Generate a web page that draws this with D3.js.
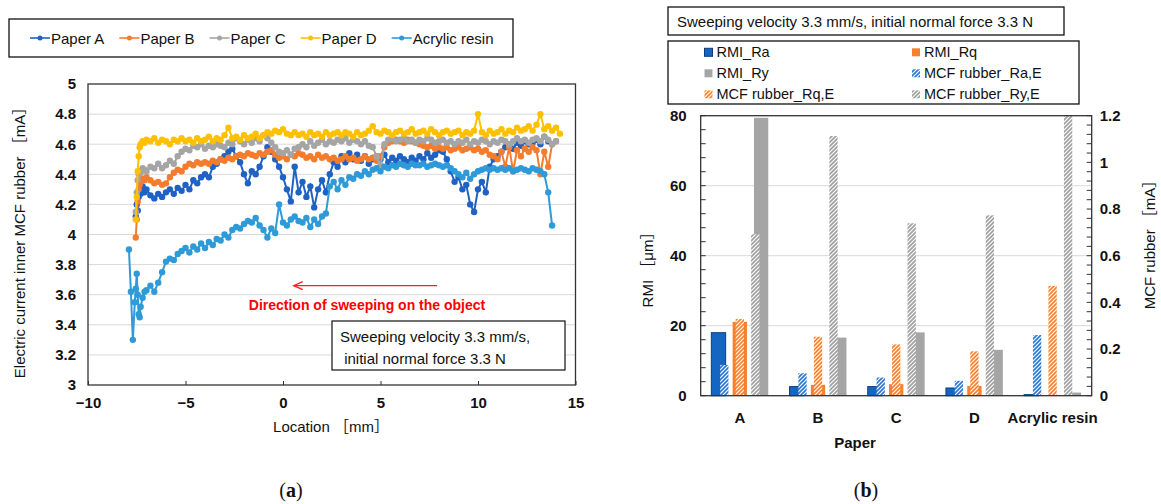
<!DOCTYPE html>
<html><head><meta charset="utf-8">
<script src="https://cdn.jsdelivr.net/npm/d3@7"></script>
<style>
body{margin:0;background:#fff;}
svg{display:block;font-family:"Liberation Sans",Arial,"Noto Sans CJK JP",sans-serif;}
</style>
</head><body>
<svg id="c" width="1161" height="504"></svg>
<script>
// ---------------- DATA: panel (a) ----------------
const seriesNames = ["Paper A", "Paper B", "Paper C", "Paper D", "Acrylic resin"];
const xTicksA = [-10, -5, 0, 5, 10, 15];
const yTicksA = [3, 3.2, 3.4, 3.6, 3.8, 4, 4.2, 4.4, 4.6, 4.8, 5];
// sampling locations [mm]: dense start, then 0.2 mm grid from -7.0 to 14.2
const locHead = [-7.9, -7.8, -7.7, -7.6, -7.55, -7.5, -7.45, -7.4, -7.35, -7.3, -7.2, -7.1];
const locTail = d3.range(107).map(k => +(-7.0 + 0.2 * k).toFixed(2));
const locations = locHead.concat(locTail);

const paperA = [null,null,null,null, 4.12,4.20,4.16,4.25,4.30,4.27,4.32,4.28,
 4.30,4.26,4.24,4.27,4.25,4.28,4.30,4.27,4.31,4.29,
 4.33,4.30,4.36,4.34,4.38,4.40,4.38,4.45,4.47,4.50,
 4.52,4.55,4.57,4.52,4.48,4.40,4.34,4.42,4.40,4.45,
 4.52,4.58,4.55,4.50,4.45,4.38,4.30,4.22,4.45,4.28,
 4.35,4.25,4.32,4.18,4.30,4.36,4.28,4.40,4.48,4.45,
 4.52,4.48,4.54,4.50,4.53,4.49,4.52,4.47,4.50,4.52,
 4.50,4.53,4.48,4.51,4.49,4.52,4.50,4.48,4.51,4.49,
 4.52,4.50,4.54,4.51,4.53,4.56,4.55,4.50,4.42,4.35,
 4.38,4.30,4.33,4.20,4.15,4.30,4.35,4.28,4.45,4.50,
 4.52,4.55,4.58,4.60,4.57,4.61,4.59,4.62,4.60,4.61,
 4.63,4.60,4.65,4.62,null,null,null];
const paperB = [null,null,null,null, 3.98,4.10,4.22,4.30,4.33,4.35,4.37,4.36,
 4.38,4.36,4.34,4.35,4.33,4.34,4.38,4.41,4.43,4.42,
 4.45,4.47,4.46,4.48,4.47,4.48,4.47,4.49,4.48,4.50,
 4.49,4.51,4.50,4.52,4.53,4.52,4.54,4.53,4.52,4.54,
 4.53,4.55,4.56,4.53,4.51,4.52,4.50,4.53,4.52,4.54,
 4.53,4.51,4.52,4.50,4.53,4.51,4.52,4.50,4.51,4.49,
 4.50,4.52,4.50,4.51,4.49,4.50,4.52,4.50,4.51,4.49,
 4.52,4.58,4.61,4.62,4.63,4.62,4.61,4.63,4.62,4.61,
 4.60,4.59,4.58,4.59,4.57,4.58,4.57,4.58,4.56,4.57,
 4.58,4.56,4.57,4.58,4.56,4.57,4.55,4.56,4.53,4.52,
 4.50,4.55,4.45,4.58,4.42,4.56,4.52,4.57,4.55,4.58,
 4.56,4.40,4.55,4.45,4.60,4.62,null];
const paperC = [null,null,null,null, 4.15,4.28,4.36,4.40,4.42,4.41,4.44,4.43,
 4.42,4.45,4.44,4.47,4.44,4.46,4.49,4.47,4.52,4.55,
 4.57,4.56,4.59,4.58,4.60,4.57,4.59,4.58,4.60,4.59,
 4.58,4.61,4.60,4.64,4.62,4.60,4.63,4.61,4.64,4.62,
 4.66,4.64,4.61,4.58,4.55,4.54,4.56,4.53,4.57,4.58,
 4.60,4.58,4.62,4.59,4.61,4.63,4.60,4.62,4.61,4.63,
 4.62,4.64,4.61,4.63,4.62,4.60,4.62,4.59,4.58,4.52,
 4.46,4.60,4.63,4.64,4.62,4.63,4.64,4.62,4.63,4.61,
 4.63,4.62,4.64,4.63,4.61,4.62,4.63,4.61,4.62,4.60,
 4.62,4.61,4.63,4.60,4.62,4.61,4.63,4.62,4.60,4.62,
 4.61,4.63,4.62,4.60,4.62,4.64,4.62,4.63,4.61,4.63,
 4.64,4.62,4.65,4.63,4.60,4.62,null];
const paperD = [null,null,null,null, 4.10,4.25,4.42,4.52,4.58,4.60,4.62,4.61,
 4.63,4.62,4.64,4.61,4.63,4.62,4.60,4.63,4.62,4.64,
 4.62,4.63,4.61,4.64,4.62,4.63,4.65,4.62,4.64,4.63,
 4.66,4.71,4.64,4.65,4.63,4.66,4.64,4.65,4.67,4.64,
 4.66,4.68,4.67,4.69,4.68,4.70,4.67,4.66,4.68,4.66,
 4.67,4.65,4.68,4.66,4.67,4.65,4.68,4.66,4.67,4.68,
 4.66,4.68,4.67,4.65,4.68,4.66,4.67,4.69,4.72,4.68,
 4.67,4.69,4.68,4.66,4.68,4.69,4.67,4.68,4.70,4.67,
 4.68,4.69,4.67,4.70,4.68,4.66,4.68,4.69,4.67,4.68,
 4.69,4.66,4.68,4.67,4.69,4.80,4.68,4.66,4.69,4.67,
 4.68,4.70,4.67,4.69,4.68,4.71,4.69,4.70,4.72,4.69,
 4.73,4.80,4.70,4.72,4.69,4.71,4.67];
const acrylic = [3.90,3.62,3.30,3.55,3.64,3.74,3.60,3.47,3.45,3.52,3.58,3.62,
 3.63,3.66,3.62,3.68,3.75,3.82,3.84,3.83,3.87,3.89,
 3.91,3.88,3.92,3.90,3.94,3.91,3.95,3.93,3.97,3.96,
 4.00,3.98,4.03,4.05,4.04,4.07,4.09,4.08,4.11,4.06,
 4.03,3.98,4.04,4.01,4.20,4.08,4.06,4.10,4.12,4.09,
 4.08,4.11,4.05,4.10,4.07,4.12,4.14,4.32,4.35,4.30,
 4.36,4.33,4.38,4.37,4.40,4.39,4.42,4.40,4.43,4.44,
 4.42,4.45,4.44,4.46,4.45,4.47,4.46,4.45,4.47,4.46,
 4.46,4.47,4.45,4.46,4.47,4.46,4.45,4.46,4.44,4.42,
 4.40,4.38,4.41,4.37,4.40,4.42,4.43,4.44,4.43,4.44,
 4.43,4.44,4.43,4.44,4.42,4.43,4.44,4.43,4.42,4.44,
 4.43,4.42,4.40,4.28,4.06,null,null];

// ---------------- DATA: panel (b) ----------------
const categories = ["A", "B", "C", "D", "Acrylic resin"];
const rmiRa = [18.0, 2.6, 2.6, 2.2, 0.3];
const rmiRq = [21.1, 3.1, 3.3, 2.8, 0.2];
const rmiRy = [79.4, 16.6, 18.1, 13.1, 0.9];
const mcfRaE = [0.132, 0.096, 0.078, 0.064, 0.26];
const mcfRqE = [0.329, 0.253, 0.22, 0.19, 0.471];
const mcfRyE = [0.692, 1.113, 0.739, 0.773, 1.2];
const yTicksL = [0, 20, 40, 60, 80];
const yTicksR = [0, 0.2, 0.4, 0.6, 0.8, 1, 1.2];

// ---------------- DRAW ----------------
const svg = d3.select("#c");
const defs = svg.append("defs");
function hatch(id, color) {
  const p = defs.append("pattern").attr("id", id).attr("patternUnits", "userSpaceOnUse")
    .attr("width", 4).attr("height", 4);
  p.append("rect").attr("width", 4).attr("height", 4).attr("fill", "#fff");
  p.append("path").attr("d", "M-1,1 l2,-2 M0,4 l4,-4 M3,5 l2,-2")
    .attr("stroke", color).attr("stroke-width", 1.7);
}
hatch("hBlue", "#2f78d2");
hatch("hOrange", "#f5812f");
hatch("hGray", "#a0a0a0");

// ===== Panel (a) =====
const colorsA = ["#1f62c4", "#f47c2c", "#a5a5a5", "#ffc000", "#2e9ad8"];
const valuesA = [paperA, paperB, paperC, paperD, acrylic];
const xA = d3.scaleLinear().domain([-10, 15]).range([88, 575.5]);
const yA = d3.scaleLinear().domain([3, 5]).range([385, 84]);
const gA = svg.append("g");

gA.selectAll("line.grid").data(yTicksA.slice(1, -1)).join("line")
  .attr("x1", xA(-10)).attr("x2", xA(15)).attr("y1", d => yA(d)).attr("y2", d => yA(d))
  .attr("stroke", "#d9d9d9").attr("stroke-width", 1);

const lineGen = d3.line().defined(d => d[1] != null).x(d => xA(d[0])).y(d => yA(d[1]));
valuesA.forEach((vals, si) => {
  const pts = locations.map((l, i) => [l, vals[i]]);
  gA.append("path").attr("d", lineGen(pts)).attr("fill", "none")
    .attr("stroke", colorsA[si]).attr("stroke-width", 2);
  gA.append("g").selectAll("circle").data(pts.filter(p => p[1] != null)).join("circle")
    .attr("cx", d => xA(d[0])).attr("cy", d => yA(d[1])).attr("r", 3.2).attr("fill", colorsA[si]);
});

gA.append("rect").attr("x", xA(-10)).attr("y", yA(5)).attr("width", xA(15) - xA(-10))
  .attr("height", yA(3) - yA(5)).attr("fill", "none").attr("stroke", "#333").attr("stroke-width", 1.3);

const axXA = gA.append("g").attr("transform", `translate(0,${yA(3)})`)
  .call(d3.axisBottom(xA).tickValues(xTicksA).tickSize(-4).tickPadding(12));
axXA.select(".domain").remove();
axXA.selectAll(".tick line").attr("stroke", "#333");
axXA.selectAll("text").attr("font-size", 15).attr("font-weight", "bold").attr("fill", "#111");

const axYA = gA.append("g").attr("transform", `translate(${xA(-10)},0)`)
  .call(d3.axisLeft(yA).tickValues(yTicksA).tickSize(0).tickPadding(12).tickFormat(d => String(+d.toFixed(1))));
axYA.select(".domain").remove();
axYA.selectAll("text").attr("font-size", 15).attr("font-weight", "bold").attr("fill", "#111");

gA.append("text").attr("x", 331).attr("y", 432).attr("text-anchor", "middle")
  .attr("font-size", 15).attr("fill", "#111").text("Location ［mm］");
gA.append("text").attr("transform", "translate(25,239) rotate(-90)").attr("text-anchor", "middle")
  .attr("font-size", 15).attr("fill", "#111").text("Electric current inner MCF rubber ［mA］");

// arrow + annotation
const arrY = yA(3.66);
gA.append("line").attr("x1", xA(7.9)).attr("x2", xA(0.55)).attr("y1", arrY).attr("y2", arrY)
  .attr("stroke", "#ff2020").attr("stroke-width", 1.3);
gA.append("path").attr("d", `M${xA(0.55) + 9},${arrY - 4} L${xA(0.55)},${arrY} L${xA(0.55) + 9},${arrY + 4}`)
  .attr("fill", "none").attr("stroke", "#ff2020").attr("stroke-width", 1.3);
gA.append("text").attr("x", 367).attr("y", 310).attr("text-anchor", "middle")
  .attr("font-size", 14).attr("font-weight", "bold").attr("fill", "#ff0000")
  .text("Direction of sweeping on the object");

gA.append("rect").attr("x", 332).attr("y", 321).attr("width", 233).attr("height", 49)
  .attr("fill", "#fff").attr("stroke", "#111").attr("stroke-width", 1.2);
gA.append("text").attr("x", 340).attr("y", 342).attr("font-size", 15).attr("fill", "#111")
  .text("Sweeping velocity 3.3 mm/s,");
gA.append("text").attr("x", 340).attr("y", 364).attr("font-size", 15).attr("fill", "#111")
  .text(" initial normal force 3.3 N").attr("xml:space", "preserve").style("white-space", "pre");

// legend (a)
gA.append("rect").attr("x", 9).attr("y", 19).attr("width", 504).attr("height", 38)
  .attr("fill", "#fff").attr("stroke", "#111").attr("stroke-width", 1.3);
let lx = 30;
seriesNames.forEach((n, i) => {
  gA.append("line").attr("x1", lx).attr("x2", lx + 20).attr("y1", 38).attr("y2", 38)
    .attr("stroke", colorsA[i]).attr("stroke-width", 1.6);
  gA.append("circle").attr("cx", lx + 10).attr("cy", 38).attr("r", 2.5).attr("fill", colorsA[i]);
  const t = gA.append("text").attr("x", lx + 21).attr("y", 43.5).attr("font-size", 15).attr("fill", "#111").text(n);
  lx = lx + 21 + t.node().getComputedTextLength() + 15;
});

// ===== Panel (b) =====
const gB = svg.append("g");
const xB = d3.scaleBand().domain(categories).range([700.7, 1091.7]);
const yL = d3.scaleLinear().domain([0, 80]).range([395.7, 115.7]);
const yR = d3.scaleLinear().domain([0, 1.2]).range([395.7, 115.7]);
const subSolid = d3.scaleBand().domain([0, 1, 2]).range([-31.95, 31.95]).paddingInner(7 / 21.3).paddingOuter(3.5 / 21.3);
const subHatch = d3.scaleBand().domain([0, 1, 2]).range([-23.25, 23.25]).paddingInner(7.2 / 15.5).paddingOuter(3.6 / 15.5);

gB.selectAll("line.grid").data([20, 40, 60]).join("line")
  .attr("x1", 700.7).attr("x2", 1091.7).attr("y1", d => yL(d)).attr("y2", d => yL(d))
  .attr("stroke", "#d9d9d9");

const solidSeries = [
  { vals: rmiRa, fill: "#1565c3", stroke: "#0e3c7a" },
  { vals: rmiRq, fill: "#f5812f", stroke: "none" },
  { vals: rmiRy, fill: "#a5a5a5", stroke: "none" }];
const hatchSeries = [
  { vals: mcfRaE, fill: "url(#hBlue)" },
  { vals: mcfRqE, fill: "url(#hOrange)" },
  { vals: mcfRyE, fill: "url(#hGray)" }];

solidSeries.forEach((s, si) => {
  gB.append("g").selectAll("rect").data(categories).join("rect")
    .attr("x", c => xB(c) + xB.bandwidth() / 2 + subSolid(si))
    .attr("width", subSolid.bandwidth())
    .attr("y", (c, i) => yL(s.vals[i]))
    .attr("height", (c, i) => yL(0) - yL(s.vals[i]))
    .attr("fill", s.fill).attr("stroke", s.stroke).attr("stroke-width", 1);
});
hatchSeries.forEach((s, si) => {
  gB.append("g").selectAll("rect").data(categories).join("rect")
    .attr("x", c => xB(c) + xB.bandwidth() / 2 + subHatch(si))
    .attr("width", subHatch.bandwidth())
    .attr("y", (c, i) => yR(s.vals[i]))
    .attr("height", (c, i) => yR(0) - yR(s.vals[i]))
    .attr("fill", s.fill);
});

gB.append("rect").attr("x", 700.7).attr("y", 115.7).attr("width", 391).attr("height", 280)
  .attr("fill", "none").attr("stroke", "#333").attr("stroke-width", 1.3);

// minor ticks
gB.append("g").selectAll("line").data(d3.range(0, 81, 4)).join("line")
  .attr("x1", 700.7).attr("x2", 705.7).attr("y1", d => yL(d)).attr("y2", d => yL(d)).attr("stroke", "#333");
gB.append("g").selectAll("line").data(d3.range(0, 31).map(k => k * 0.04)).join("line")
  .attr("x1", 1091.7).attr("x2", 1086.7).attr("y1", d => yR(d)).attr("y2", d => yR(d)).attr("stroke", "#333");

const axL = gB.append("g").attr("transform", "translate(700.7,0)")
  .call(d3.axisLeft(yL).tickValues(yTicksL).tickSize(0).tickPadding(14));
axL.select(".domain").remove();
axL.selectAll("text").attr("font-size", 15).attr("font-weight", "bold").attr("fill", "#111");
const axR = gB.append("g").attr("transform", "translate(1091.7,0)")
  .call(d3.axisRight(yR).tickValues(yTicksR).tickSize(0).tickPadding(8).tickFormat(d => String(d)));
axR.select(".domain").remove();
axR.selectAll("text").attr("font-size", 15).attr("font-weight", "bold").attr("fill", "#111");
const axB = gB.append("g").attr("transform", "translate(0,395.7)")
  .call(d3.axisBottom(xB).tickSize(0).tickPadding(17));
axB.select(".domain").remove();
axB.selectAll("text").attr("font-size", 15).attr("font-weight", "bold").attr("fill", "#111");

gB.append("text").attr("x", 855).attr("y", 448).attr("text-anchor", "middle")
  .attr("font-size", 15).attr("font-weight", "bold").attr("fill", "#111").text("Paper");
gB.append("text").attr("transform", "translate(653,266) rotate(-90)").attr("text-anchor", "middle")
  .attr("font-size", 15).attr("fill", "#111").text("RMI ［μm］");
gB.append("text").attr("transform", "translate(1155,241) rotate(-90)").attr("text-anchor", "middle")
  .attr("font-size", 15).attr("fill", "#111").text("MCF rubber ［mA］");

// title box
gB.append("rect").attr("x", 668).attr("y", 7).attr("width", 396).attr("height", 28)
  .attr("fill", "#fff").attr("stroke", "#111").attr("stroke-width", 1.3);
gB.append("text").attr("x", 677).attr("y", 27).attr("font-size", 15).attr("fill", "#111")
  .text("Sweeping velocity 3.3 mm/s, initial normal force 3.3 N");

// legend box (b)
gB.append("rect").attr("x", 668).attr("y", 41).attr("width", 411).attr("height", 63)
  .attr("fill", "#fff").attr("stroke", "#111").attr("stroke-width", 1.3);
const legB = [
  { name: "RMI_Ra", fill: "#1565c3", stroke: "#0e3c7a", col: 0, row: 0 },
  { name: "RMI_Rq", fill: "#f5812f", stroke: "none", col: 1, row: 0 },
  { name: "RMI_Ry", fill: "#a5a5a5", stroke: "none", col: 0, row: 1 },
  { name: "MCF rubber_Ra,E", fill: "url(#hBlue)", stroke: "none", col: 1, row: 1 },
  { name: "MCF rubber_Rq,E", fill: "url(#hOrange)", stroke: "none", col: 0, row: 2 },
  { name: "MCF rubber_Ry,E", fill: "url(#hGray)", stroke: "none", col: 1, row: 2 }];
const colX = [704.5, 912];
const rowY = [52.3, 73.3, 94.3];
legB.forEach(d => {
  gB.append("rect").attr("x", colX[d.col]).attr("y", rowY[d.row] - 4).attr("width", 8).attr("height", 8)
    .attr("fill", d.fill).attr("stroke", d.stroke);
  gB.append("text").attr("x", colX[d.col] + 12).attr("y", rowY[d.row] + 5).attr("font-size", 14.5)
    .attr("fill", "#111").text(d.name);
});

// panel labels
[["(", "a", ")", 291], ["(", "b", ")", 866]].forEach(p => {
  const t = svg.append("text").attr("x", p[3]).attr("y", 497).attr("text-anchor", "middle")
    .attr("font-family", "'Liberation Serif', serif").attr("font-size", 20).attr("fill", "#111");
  t.append("tspan").text(p[0]);
  t.append("tspan").attr("font-weight", "bold").text(p[1]);
  t.append("tspan").text(p[2]);
});
</script>
</body></html>
